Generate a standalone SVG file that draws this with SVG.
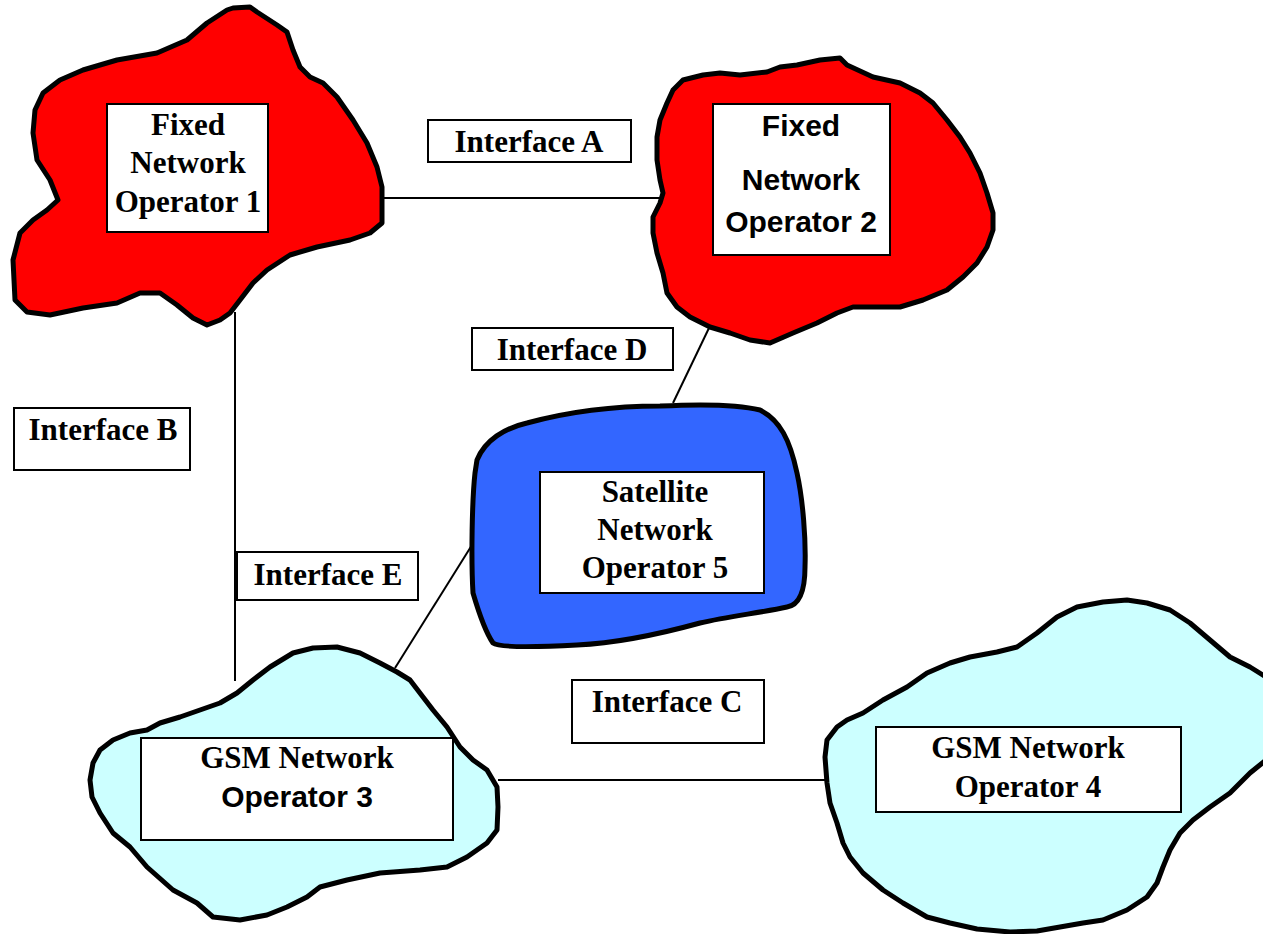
<svg xmlns="http://www.w3.org/2000/svg" width="1263" height="934" viewBox="0 0 1263 934">
<style>
.cloud{stroke:#000;stroke-width:5;stroke-linejoin:round}
.red{fill:#FF0000}
.blue{fill:#3366FF}
.cyan{fill:#CCFFFF}
.box{fill:#fff;stroke:#000;stroke-width:2}
.conn{stroke:#000;stroke-width:2;fill:none}
.ts{font-family:"Liberation Serif","Times New Roman",serif;font-weight:bold;font-size:31px;fill:#000;text-anchor:middle}
.ta{font-family:"Liberation Sans",Arial,sans-serif;font-weight:bold;font-size:30px;fill:#000;text-anchor:middle}
</style>
<rect width="1263" height="934" fill="#fff"/>
<g id="connectors">
<line class="conn" x1="383" y1="198" x2="663" y2="198"/>
<line class="conn" x1="235" y1="312" x2="235" y2="681"/>
<line class="conn" x1="709" y1="328" x2="673" y2="403"/>
<line class="conn" x1="472" y1="545" x2="395" y2="668"/>
<line class="conn" x1="498" y1="780" x2="826" y2="780"/>
</g>
<g id="fixed1">
<path class="cloud red" d="M233,8 L250,7 L257,12 L277,25 L287,32 L293,50 L300,67 L310,77 L323,83 L337,97 L353,120 L367,143 L377,167 L382,187 L382,223 L370,233 L350,240 L317,247 L290,255 L267,270 L253,283 L240,300 L230,313 L220,320 L207,325 L193,318 L177,305 L160,293 L140,293 L117,303 L83,308 L50,315 L27,312 L15,300 L13,260 L20,233 L33,220 L47,210 L58,200 L50,180 L37,160 L33,133 L35,110 L43,93 L60,80 L83,70 L117,60 L157,53 L187,40 L207,23 L227,10 Z"/>
<rect class="box" x="107" y="104" width="161" height="128"/>
<text class="ts" x="188" y="135">Fixed</text>
<text class="ts" x="188" y="173">Network</text>
<text class="ts" x="188" y="212">Operator 1</text>
</g>
<g id="fixed2">
<path class="cloud red" d="M683,80 L703,75 L720,73 L740,75 L767,72 L780,67 L797,65 L820,60 L840,58 L847,65 L873,77 L900,83 L920,93 L933,103 L947,120 L960,137 L970,153 L980,173 L987,193 L993,213 L993,230 L987,247 L977,263 L963,277 L947,290 L923,300 L900,307 L873,307 L853,307 L837,313 L817,323 L793,333 L770,343 L750,340 L730,333 L710,327 L690,317 L677,307 L667,293 L663,273 L657,253 L653,233 L653,217 L660,203 L663,193 L660,180 L657,160 L657,137 L660,120 L667,103 L673,90 Z"/>
<rect class="box" x="713" y="104" width="177" height="151"/>
<text class="ta" x="801" y="136">Fixed</text>
<text class="ta" x="801" y="190">Network</text>
<text class="ta" x="801" y="232">Operator 2</text>
</g>
<g id="satellite5">
<path class="cloud blue" d="M477,460 C485,440 505,428 527,423 C560,414 600,406 660,406 C700,404 740,405 760,410 C780,420 790,440 797,473 C803,500 806,540 805,567 C805,590 800,605 787,607 C760,613 730,616 700,623 C660,634 620,643 577,645 C540,647 500,648 493,643 C484,630 478,610 473,593 C471,560 472,500 475,473 Z"/>
<rect class="box" x="540" y="472" width="224" height="121"/>
<text class="ts" x="655" y="502">Satellite</text>
<text class="ts" x="655" y="540">Network</text>
<text class="ts" x="655" y="578">Operator 5</text>
</g>
<g id="gsm3">
<path class="cloud cyan" d="M90,780 L93,763 L100,750 L113,740 L130,733 L147,730 L160,723 L180,717 L200,710 L220,703 L237,693 L253,680 L270,667 L293,653 L313,648 L337,647 L360,653 L380,663 L397,672 L410,680 L423,697 L433,710 L447,727 L460,747 L473,760 L487,770 L497,787 L498,807 L497,830 L487,843 L467,857 L447,867 L420,870 L380,873 L347,880 L320,887 L307,897 L287,907 L267,915 L240,920 L213,917 L197,903 L173,890 L147,867 L130,847 L113,833 L100,813 L92,797 Z"/>
<rect class="box" x="141" y="738" width="312" height="102"/>
<text class="ts" x="297" y="768">GSM Network</text>
<text class="ta" x="297" y="807">Operator 3</text>
</g>
<g id="gsm4">
<path class="cloud cyan" d="M825,757 L827,740 L837,727 L847,720 L863,713 L883,700 L907,687 L927,673 L950,663 L970,657 L997,652 L1017,647 L1037,633 L1057,617 L1077,607 L1103,602 L1127,600 L1147,603 L1170,610 L1190,623 L1210,640 L1230,657 L1250,667 L1266,677 L1266,760 L1250,773 L1230,793 L1210,807 L1193,820 L1180,833 L1170,850 L1163,867 L1157,883 L1147,897 L1127,910 L1103,920 L1083,923 L1060,927 L1037,931 L1010,932 L977,929 L950,923 L927,917 L903,903 L883,890 L863,873 L850,857 L843,843 L837,823 L830,803 L827,783 Z"/>
<rect class="box" x="876" y="727" width="305" height="85"/>
<text class="ts" x="1028" y="758">GSM Network</text>
<text class="ts" x="1028" y="797">Operator 4</text>
</g>
<g id="labelA">
<rect class="box" x="428" y="120" width="203" height="42"/>
<text class="ts" x="529" y="152">Interface A</text>
</g>
<g id="labelB">
<rect class="box" x="14" y="408" width="176" height="62"/>
<text class="ts" x="103" y="440">Interface B</text>
</g>
<g id="labelC">
<rect class="box" x="572" y="680" width="192" height="63"/>
<text class="ts" x="667" y="712">Interface C</text>
</g>
<g id="labelD">
<rect class="box" x="472" y="328" width="201" height="42"/>
<text class="ts" x="572" y="360">Interface D</text>
</g>
<g id="labelE">
<rect class="box" x="237" y="552" width="181" height="48"/>
<text class="ts" x="328" y="585">Interface E</text>
</g>
</svg>
